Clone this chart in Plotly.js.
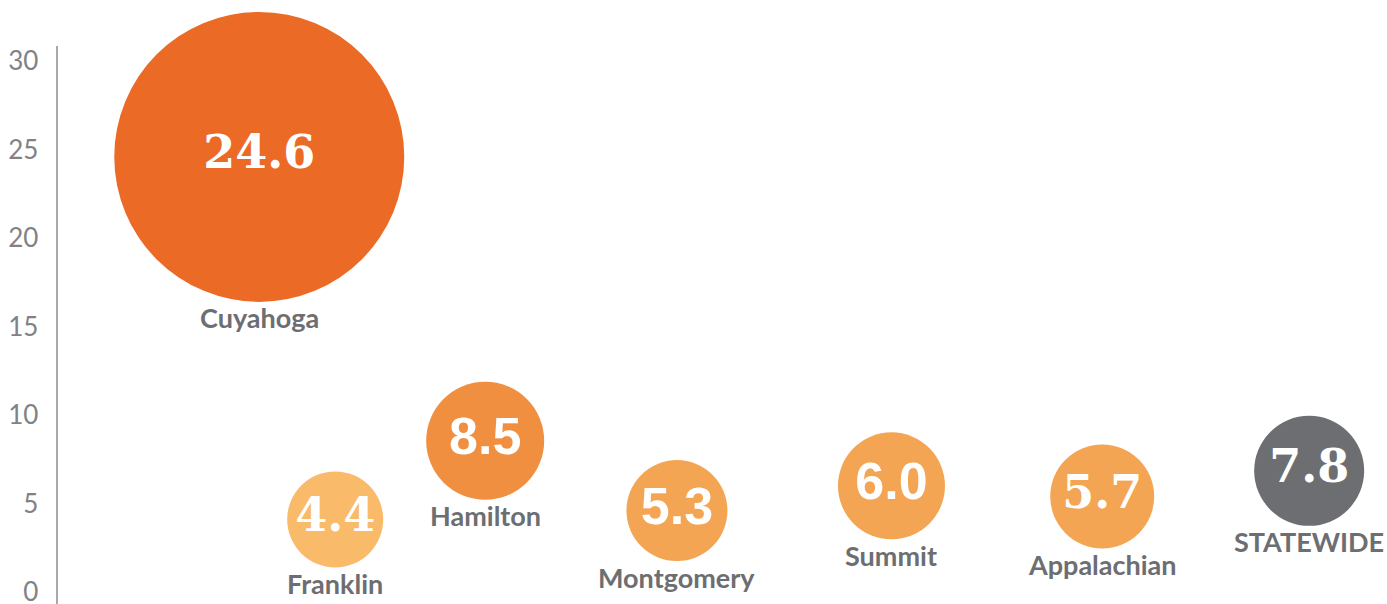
<!DOCTYPE html>
<html>
<head>
<meta charset="utf-8">
<script src="https://cdn.plot.ly/plotly-3.0.1.min.js"></script>
<style>html,body{margin:0;padding:0;background:#fff;}#chart{width:1387px;height:604px;}</style>
</head>
<body>
<div id="chart"></div>
<script>
// Data
const regions = ["Cuyahoga", "Franklin", "Hamilton", "Montgomery", "Summit", "Appalachian", "STATEWIDE"];
const rateLabels = ["24.6", "4.4", "8.5", "5.3", "6.0", "5.7", "7.8"];
const plottedY = [24.6, 4.1, 8.55, 4.6, 6.0, 5.4, 6.85];
const xSlot = [1.06, 1.46, 2.25, 3.26, 4.39, 5.50, 6.59];
const bubbleDiameter = [290, 96, 118, 101, 107, 104, 110];
const bubbleColors = ["#EB6A25", "#F9BA6A", "#F08F3F", "#F4A553", "#F4A553", "#F4A553", "#6D6E71"];
const serifLabel = [true, true, false, false, false, true, true];
const yTicks = [0, 5, 10, 15, 20, 25, 30];

const numberFonts = serifLabel.map(s => s ? "DejaVu Serif" : "Liberation Sans");
const numberSizes = serifLabel.map(s => s ? 46 : 52);

const bubbles = {
  type: "scatter",
  mode: "markers",
  x: xSlot,
  y: plottedY,
  marker: {size: bubbleDiameter, sizemode: "diameter", sizeref: 1, color: bubbleColors, opacity: 1, line: {width: 0}},
  cliponaxis: false,
  hoverinfo: "skip"
};

const numbers = {
  type: "scatter",
  mode: "text",
  x: xSlot,
  y: plottedY,
  text: rateLabels,
  textposition: "middle center",
  textfont: {family: numberFonts, size: numberSizes, color: "#FFFFFF", weight: 700},
  cliponaxis: false,
  hoverinfo: "skip"
};

const nameNotes = regions.map((name, i) => ({
  x: xSlot[i],
  y: plottedY[i],
  xref: "x",
  yref: "y",
  text: name,
  showarrow: false,
  xanchor: "center",
  yanchor: "middle",
  yshift: -(bubbleDiameter[i] / 2 + 16),
  font: {family: "Lato", size: 27, color: "#6D6E71", weight: 700}
}));

const layout = {
  width: 1387,
  height: 604,
  margin: {l: 58, r: 0, t: 46, b: 0, autoexpand: false},
  paper_bgcolor: "#FFFFFF",
  plot_bgcolor: "#FFFFFF",
  showlegend: false,
  annotations: nameNotes,
  xaxis: {visible: false, range: [0, 7], fixedrange: true},
  yaxis: {
    range: [-0.68, 30.87],
    tickvals: yTicks,
    ticktext: yTicks.map(String),
    showgrid: false,
    zeroline: false,
    showline: true,
    linecolor: "#A7A9AC",
    linewidth: 2.5,
    ticks: "",
    ticklabelstandoff: 12,
    ticklabeloverflow: "allow",
    tickfont: {family: "Lato", size: 26, color: "#808285", weight: 400}
  }
};

Plotly.newPlot("chart", [bubbles, numbers], layout, {displayModeBar: false, staticPlot: true});
</script>
</body>
</html>
